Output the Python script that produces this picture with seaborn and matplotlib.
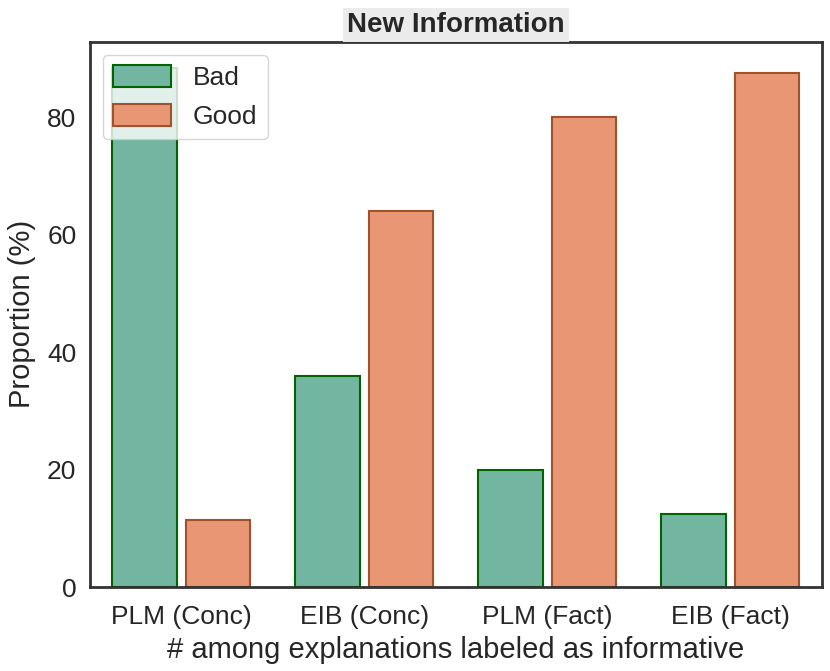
import matplotlib
matplotlib.use("Agg")
import matplotlib.pyplot as plt
import seaborn as sns
import pandas as pd

categories = ["PLM (Conc)", "EIB (Conc)", "PLM (Fact)", "EIB (Fact)"]
bad_values = [88.5, 36.0, 20.0, 12.4]
good_values = [11.5, 64.0, 80.0, 87.6]
series = ["Bad", "Good"]

df = pd.DataFrame({
    "category": categories * 2,
    "label": ["Bad"] * len(categories) + ["Good"] * len(categories),
    "value": bad_values + good_values,
})

sns.set_theme(style="white")
plt.rcParams['font.family'] = ['Liberation Sans', 'DejaVu Sans']

fig = plt.figure(figsize=(8.3, 6.71), dpi=100)
ax = fig.add_axes([0.108, 0.125, 0.882, 0.813])

palette = sns.color_palette("Set2", 2)
sns.barplot(data=df, x="category", y="value", hue="label", order=categories,
            hue_order=series, palette=palette, gap=0.12, ax=ax, linewidth=1.5)

edge_colors = {"Bad": "darkgreen", "Good": "sienna"}
for container, lab in zip(ax.containers, series):
    for patch in container:
        patch.set_edgecolor(edge_colors[lab])
        patch.set_linewidth(1.5)

for spine in ax.spines.values():
    spine.set_color("#333333")
    spine.set_linewidth(2)

ax.set_xlabel("# among explanations labeled as informative", fontsize=21, labelpad=5)
ax.set_ylabel("Proportion (%)", fontsize=21, labelpad=8)
ax.tick_params(axis="x", labelsize=19, pad=7)
ax.tick_params(axis="y", labelsize=19)
ax.set_yticks([0, 20, 40, 60, 80])
ax.set_title("New Information", fontsize=20, fontweight="bold",
             bbox=dict(facecolor="#ebebeb", edgecolor="none", pad=3), pad=7)

leg = ax.legend(loc="upper left", fontsize=19, frameon=True, handlelength=2.2,
                handleheight=0.9)
for h, lab in zip(leg.legend_handles, series):
    h.set_edgecolor(edge_colors[lab])
    h.set_linewidth(1.5)

fig.savefig("out.png", dpi=100)
